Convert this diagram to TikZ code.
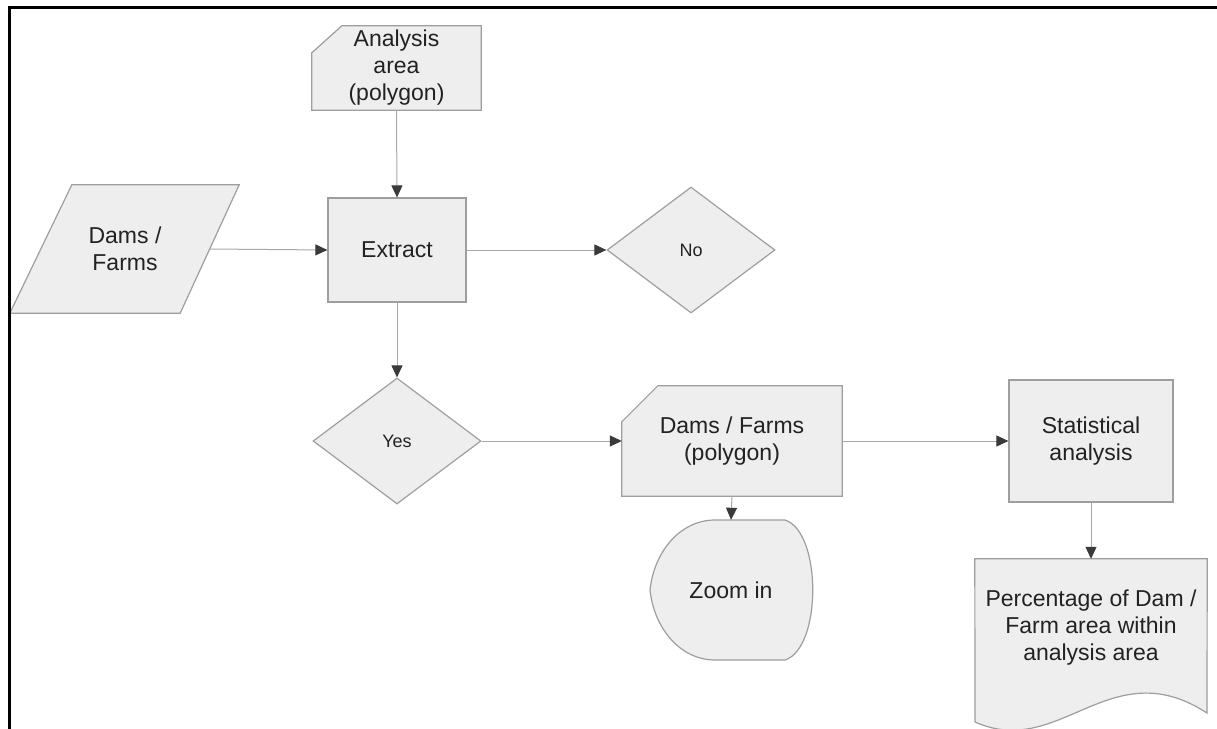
\documentclass[tikz,border=0pt]{standalone}
\usepackage{fontspec}
\setmainfont{Liberation Sans}
\usetikzlibrary{arrows.meta,shapes.geometric,backgrounds}
\definecolor{shapefill}{HTML}{EEEEEE}
\definecolor{shapeline}{HTML}{9E9E9E}
\definecolor{linkline}{HTML}{A8A8A8}
\definecolor{tipdark}{HTML}{3A3A3A}
\definecolor{labeltext}{HTML}{222222}
\begin{document}
\begin{tikzpicture}[x=1pt,y=-1pt,
  lbl/.style={font=\fontsize{23}{27}\selectfont, text=labeltext, align=center, inner sep=0pt},
  smalllbl/.style={font=\fontsize{18}{21}\selectfont, text=labeltext, inner sep=0pt},
  outline/.style={draw=shapeline, fill=shapefill, line width=1.2pt, line join=miter},
  procbox/.style={lbl, outline, rectangle},
  decision/.style={smalllbl, outline, diamond, minimum width=168pt, minimum height=126pt},
  link/.style={draw=linkline, line width=1pt, -{Triangle[length=12pt,width=11pt,color=tipdark]}}
]
\useasboundingbox (0,0) rectangle (1217,728);
\clip (0,0) rectangle (1217,728);

% frame on the left and top
\draw[line width=3pt, line cap=butt] (9,730) -- (9,7) -- (1220,7);

% nodes
\node[lbl, minimum width=169pt, minimum height=84pt] (area) at (396.5,68) {Analysis\\area\\(polygon)};
\node[lbl, minimum width=168pt, minimum height=128pt] (df) at (125,249) {Dams /\\Farms};
\node[procbox, minimum width=138pt, minimum height=104pt] (ext) at (397,250) {Extract};
\node[decision] (no) at (691,250) {No};
\node[decision] (yes) at (397,441) {Yes};
\node[lbl, minimum width=220pt, minimum height=110pt] (dfp) at (732,441) {Dams / Farms\\(polygon)};
\node[procbox, minimum width=164pt, minimum height=122pt] (stat) at (1091,441) {Statistical\\analysis};
\node[lbl, minimum width=162pt, minimum height=140pt] (zoom) at (731,590) {Zoom in};
\node[lbl, minimum width=232pt, minimum height=138pt] (pct) at (1091,628) {Percentage of Dam /\\Farm area within\\analysis area};

% outlines of the non-rectangular shapes
\begin{scope}[on background layer]
  \clip (0,0) rectangle (1217,728);
  % data card
  \path[outline] ([xshift=30pt]area.north west) -- (area.north east) -- (area.south east)
    -- (area.south west) -- ([yshift=-27pt]area.north west) -- cycle;
  % input parallelogram
  \path[outline] ([xshift=31pt]df.north west) -- ([xshift=30pt]df.north east)
    -- ([xshift=-29pt]df.south east) -- ([xshift=-31pt]df.south west) -- cycle;
  % polygon card
  \path[outline] ([xshift=36pt]dfp.north west) -- (dfp.north east) -- (dfp.south east)
    -- (dfp.south west) -- ([yshift=-36pt]dfp.north west) -- cycle;
  % display shape
  \path[outline] (650,590) .. controls (654,552) and (680,520) .. (715,520) -- (785,520)
    .. controls (822,532) and (822,648) .. (785,660) -- (715,660)
    .. controls (680,660) and (654,628) .. (650,590) -- cycle;
  % document with wavy bottom
  \path[outline] (pct.north west) -- (pct.north east) -- (1207,713)
    .. controls (1110,650) and (1060,760) .. (975,722) -- cycle;
\end{scope}

% connectors
\draw[link] (area.south) -- (ext.north);
\draw[link] (df.east) -- (ext.west);
\draw[link] (ext.east) -- (no.west);
\draw[link] (ext.south) -- (yes.north);
\draw[link] (yes.east) -- (dfp.west);
\draw[link] (dfp.south) -- (zoom.north);
\draw[link] (dfp.east) -- (stat.west);
\draw[link] (stat.south) -- (pct.north);
\end{tikzpicture}
\end{document}
